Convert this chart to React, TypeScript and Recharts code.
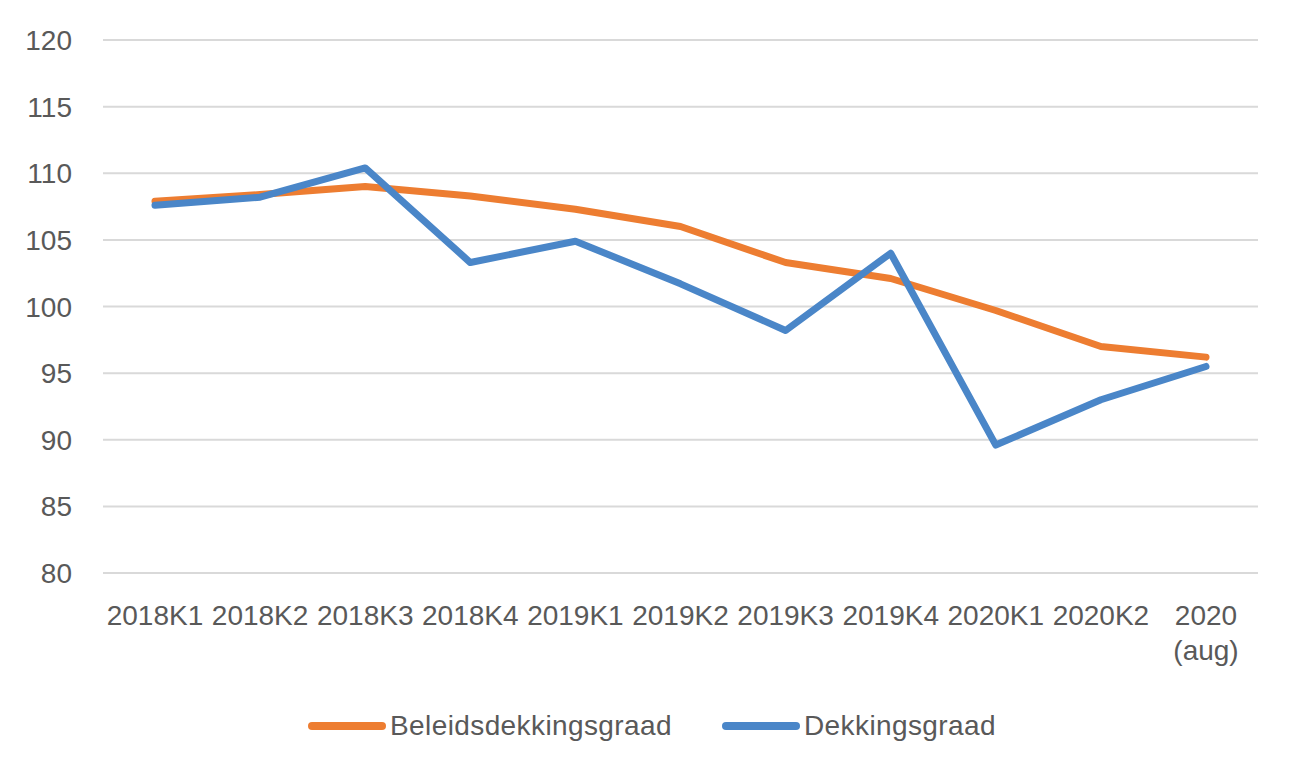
import React from 'react';
import { LineChart, Line, XAxis, YAxis, CartesianGrid, Legend } from 'recharts';

const categories = ['2018K1', '2018K2', '2018K3', '2018K4', '2019K1', '2019K2', '2019K3', '2019K4', '2020K1', '2020K2', '2020 (aug)'];
const beleidsdekkingsgraad = [107.9, 108.4, 109.0, 108.3, 107.3, 106.0, 103.3, 102.1, 99.7, 97.0, 96.2];
const dekkingsgraad = [107.6, 108.2, 110.4, 103.3, 104.9, 101.7, 98.2, 104.0, 89.6, 93.0, 95.5];
const yTicks = [80, 85, 90, 95, 100, 105, 110, 115, 120];

const seriesNames = { b: 'Beleidsdekkingsgraad', d: 'Dekkingsgraad' };
const ORANGE = '#ED7D31';
const BLUE = '#4A86C8';
const TEXT = '#595959';
const FONT = '"Liberation Sans", Arial, sans-serif';

const data = categories.map((c, i) => ({ cat: c, b: beleidsdekkingsgraad[i], d: dekkingsgraad[i] }));

const XTick = (props: any) => {
  const { x, y, payload } = props;
  const parts = String(payload.value).split(' ');
  return (
    <text x={x} y={y + 52} textAnchor="middle" fill={TEXT} fontSize={28} fontFamily={FONT}>
      {parts.map((p, i) => (
        <tspan key={i} x={x} dy={i === 0 ? 0 : 35}>{p}</tspan>
      ))}
    </text>
  );
};

const YTick = (props: any) => {
  const { x, y, payload } = props;
  return (
    <text x={x} y={y + 10} textAnchor="end" fill={TEXT} fontSize={28} fontFamily={FONT}>
      {payload.value}
    </text>
  );
};

const LegendContent = () => {
  const item = (color: string, label: string, gapAfter: number) => (
    <div style={{ display: 'flex', alignItems: 'center', marginRight: gapAfter }}>
      <div style={{ width: 78, height: 8, borderRadius: 4, background: color, marginRight: 4 }} />
      <span style={{ fontSize: 28, letterSpacing: 0.4, color: TEXT, fontFamily: FONT }}>{label}</span>
    </div>
  );
  return (
    <div style={{ display: 'flex', justifyContent: 'center', alignItems: 'center', height: 40, paddingLeft: 46 }}>
      {item(ORANGE, seriesNames.b, 50)}
      {item(BLUE, seriesNames.d, 0)}
    </div>
  );
};

export default function App() {
  return (
    <div style={{ position: 'absolute', left: 0, top: 0, width: 1299, height: 779, background: '#fff' }}>
      <LineChart width={1299} height={779} data={data} margin={{ top: 40, right: 41, left: 0, bottom: 33 }}>
        <CartesianGrid vertical={false} stroke="#D9D9D9" strokeWidth={2} />
        <XAxis
          dataKey="cat"
          interval={0}
          height={133}
          padding={{ left: 52, right: 52 }}
          axisLine={{ stroke: '#D9D9D9', strokeWidth: 2 }}
          tickLine={false}
          tickSize={0}
          tickMargin={0}
          tick={<XTick />}
        />
        <YAxis
          domain={[80, 120]}
          ticks={yTicks}
          interval={0}
          width={103}
          axisLine={false}
          tickLine={false}
          tickSize={0}
          tickMargin={31}
          tick={<YTick />}
        />
        <Legend verticalAlign="bottom" content={<LegendContent />} />
        <Line type="linear" dataKey="b" name={seriesNames.b} stroke={ORANGE} strokeWidth={7} dot={false} strokeLinejoin="round" strokeLinecap="round" isAnimationActive={false} />
        <Line type="linear" dataKey="d" name={seriesNames.d} stroke={BLUE} strokeWidth={7} dot={false} strokeLinejoin="round" strokeLinecap="round" isAnimationActive={false} />
      </LineChart>
    </div>
  );
}
